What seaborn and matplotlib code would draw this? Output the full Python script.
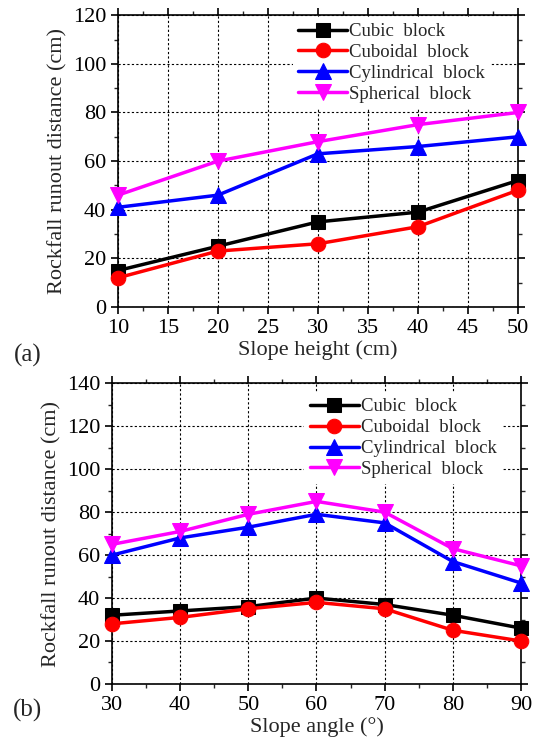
import matplotlib
matplotlib.use("Agg")
import matplotlib.pyplot as plt
import seaborn as sns
import pandas as pd
from matplotlib.ticker import MultipleLocator

sns.set_theme(style="ticks")
plt.rcParams['font.family'] = ['Liberation Serif', 'DejaVu Serif']
plt.rcParams['mathtext.fontset'] = 'stix'

series = ["Cubic  block", "Cuboidal  block", "Cylindrical  block", "Spherical  block"]
colors = ["#000000", "#ff0000", "#0000ff", "#ff00ff"]
markers = ["s", "o", "^", "v"]
msizes = [10, 10.5, 12, 12]

height = [10, 20, 30, 40, 50]
a_cubic = [15, 25, 35, 39, 52]
a_cuboidal = [12, 23, 26, 33, 48]
a_cyl = [41, 46, 63, 66, 70]
a_sph = [46, 60, 68, 75, 80]

angle = [30, 40, 50, 60, 70, 80, 90]
b_cubic = [32, 34, 36, 40, 37, 32, 26]
b_cuboidal = [28, 31, 35, 38, 35, 25, 20]
b_cyl = [60, 68, 73, 79, 75, 57, 47]
b_sph = [65, 71, 79, 85, 80, 63, 55]

def long_df(x, ys):
    rows = []
    for name, y in zip(series, ys):
        for xi, yi in zip(x, y):
            rows.append({"x": xi, "y": yi, "block": name})
    return pd.DataFrame(rows)

df_a = long_df(height, [a_cubic, a_cuboidal, a_cyl, a_sph])
df_b = long_df(angle, [b_cubic, b_cuboidal, b_cyl, b_sph])

fig = plt.figure(figsize=(5.41, 7.48), dpi=100)
ax1 = fig.add_axes([0.218, 0.5896, 0.739, 0.390])
ax2 = fig.add_axes([0.207, 0.0856, 0.756, 0.402])

def draw(ax, df, xlim, xmajor, xminor, ylim, ymajor, xlabel, tag, tagpos, legend_anchor):
    for name, c, m, ms in zip(series, colors, markers, msizes):
        sub = df[df["block"] == name]
        sns.lineplot(data=sub, x="x", y="y", ax=ax, color=c, marker=m, markersize=ms,
                     markeredgecolor=c, linewidth=2.5, label=name, clip_on=False, zorder=3)
    ax.set_xlim(*xlim)
    ax.set_ylim(*ylim)
    ax.xaxis.set_major_locator(MultipleLocator(xmajor))
    ax.xaxis.set_minor_locator(MultipleLocator(xminor))
    ax.yaxis.set_major_locator(MultipleLocator(ymajor))
    ax.yaxis.set_minor_locator(MultipleLocator(ymajor / 2))
    ax.grid(True, which="major", color="black", linestyle=(0, (2, 2)), linewidth=0.8)
    ax.set_axisbelow(True)
    for s in ax.spines.values():
        s.set_linewidth(1.2)
        s.set_color("black")
    ax.tick_params(which="major", direction="out", length=5, width=1.2, labelsize=16, colors="black")
    ax.tick_params(which="minor", direction="out", length=3, width=1)
    ax.tick_params(axis="both", which="both", top=True, right=True)
    ax.set_xlabel(xlabel, fontsize=16, labelpad=2)
    ax.set_ylabel("Rockfall runout distance (cm)", fontsize=16, labelpad=4)
    leg = ax.legend(loc="upper right", bbox_to_anchor=legend_anchor, frameon=True, fontsize=13.5,
                    handlelength=2.6, handletextpad=0.1, borderpad=0.3, labelspacing=0.2,
                    markerscale=1.0)
    leg.get_frame().set_edgecolor("none")
    leg.get_frame().set_facecolor("white")
    leg.get_frame().set_alpha(1)
    leg.set_zorder(5)
    fig.text(tagpos[0], tagpos[1], tag, fontsize=18, ha="left", va="center")

draw(ax1, df_a, (10, 50), 5, 2.5, (0, 120), 20, "Slope height (cm)", "(a)", (0.025, 0.525), (0.955, 1.025))
draw(ax2, df_b, (30, 90), 10, 5, (0, 140), 20, "Slope angle (\u00b0)", "(b)", (0.024, 0.05), (0.977, 1.0))

fig.savefig("out.png", dpi=100)
